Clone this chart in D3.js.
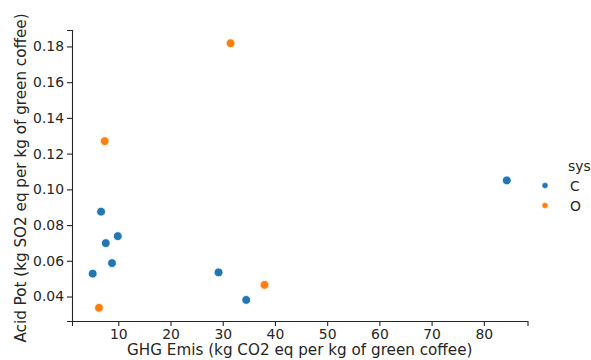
<!DOCTYPE html>
<html>
<head>
<meta charset="utf-8">
<script src="https://cdn.jsdelivr.net/npm/d3@7"></script>
<style>
  html, body { margin: 0; padding: 0; background: #fff; }
  svg { display: block; font-family: "DejaVu Sans", sans-serif; }
</style>
</head>
<body>
<svg id="chart" width="591" height="360"></svg>
<script>
// GHG emissions vs. acidification potential, per coffee system
const ghgC  = [6.7, 9.9, 7.6, 8.8, 5.1, 29.2, 34.5, 84.4];
const acidC = [0.0875, 0.0738, 0.0699, 0.0587, 0.0528, 0.0535, 0.0381, 0.1050];
const ghgO  = [31.5, 7.4, 6.3, 38.0];
const acidO = [0.1818, 0.1270, 0.0337, 0.0465];
const systems = ["C", "O"];
const colors = ["#1f77b4", "#ff7f0e"];
const xTicks = [10, 20, 30, 40, 50, 60, 70, 80];
const yTicks = [0.04, 0.06, 0.08, 0.10, 0.12, 0.14, 0.16, 0.18];

const svg = d3.select("#chart");
const plot = { left: 72, right: 527.5, top: 30, bottom: 321 };

const series = [
  { key: systems[0], color: colors[0], pts: ghgC.map((g, i) => [g, acidC[i]]) },
  { key: systems[1], color: colors[1], pts: ghgO.map((g, i) => [g, acidO[i]]) }
];

const all = series.flatMap(s => s.pts);
const xe = d3.extent(all, d => d[0]), ye = d3.extent(all, d => d[1]);
const xm = (xe[1] - xe[0]) * 0.05, ym = (ye[1] - ye[0]) * 0.05;

const x = d3.scaleLinear().domain([xe[0] - xm, xe[1] + xm]).range([plot.left, plot.right]);
const y = d3.scaleLinear().domain([ye[0] - ym, ye[1] + ym]).range([plot.bottom, plot.top]);

const tickFs = 13.9, labelFs = 15.2;
const ink = "#262626";

const xAxis = svg.append("g")
  .attr("transform", `translate(0,${plot.bottom})`)
  .call(d3.axisBottom(x).tickValues(xTicks).tickFormat(d3.format("d")).tickSizeOuter(0).tickSize(5).tickPadding(3));
const yAxis = svg.append("g")
  .attr("transform", `translate(${plot.left},0)`)
  .call(d3.axisLeft(y).tickValues(yTicks).tickFormat(d3.format(".2f")).tickSizeOuter(0).tickSize(5).tickPadding(3));

[xAxis, yAxis].forEach(a => {
  a.selectAll("text").attr("font-size", tickFs).attr("font-family", "DejaVu Sans, sans-serif").attr("fill", ink);
  a.selectAll("line").attr("stroke", ink).attr("stroke-width", 1.1);
  a.select(".domain").attr("stroke", ink).attr("stroke-width", 1.1);
});

svg.append("text")
  .attr("x", (plot.left + plot.right) / 2).attr("y", 355)
  .attr("text-anchor", "middle").attr("font-size", labelFs).attr("fill", ink)
  .text("GHG Emis (kg CO2 eq per kg of green coffee)");

svg.append("text")
  .attr("transform", `translate(26,178) rotate(-90)`)
  .attr("text-anchor", "middle").attr("font-size", labelFs).attr("fill", ink)
  .text("Acid Pot (kg SO2 eq per kg of green coffee)");

// points
series.forEach(s => {
  svg.append("g").selectAll("circle").data(s.pts).join("circle")
    .attr("cx", d => x(d[0])).attr("cy", d => y(d[1]))
    .attr("r", 4.4)
    .attr("fill", s.color).attr("stroke", "#fff").attr("stroke-width", 0.8);
});

// legend
const lg = svg.append("g").attr("transform", "translate(545,0)");
lg.append("text").attr("x", 23).attr("y", 171).attr("font-size", tickFs).attr("fill", ink).text("sys");
series.forEach((s, i) => {
  const yy = 185.5 + i * 20;
  lg.append("circle").attr("cx", 0).attr("cy", yy).attr("r", 3).attr("fill", s.color).attr("stroke", "#fff").attr("stroke-width", 0.5);
  lg.append("text").attr("x", 25).attr("y", yy + 5).attr("font-size", tickFs).attr("fill", ink).text(s.key);
});
</script>
</body>
</html>
